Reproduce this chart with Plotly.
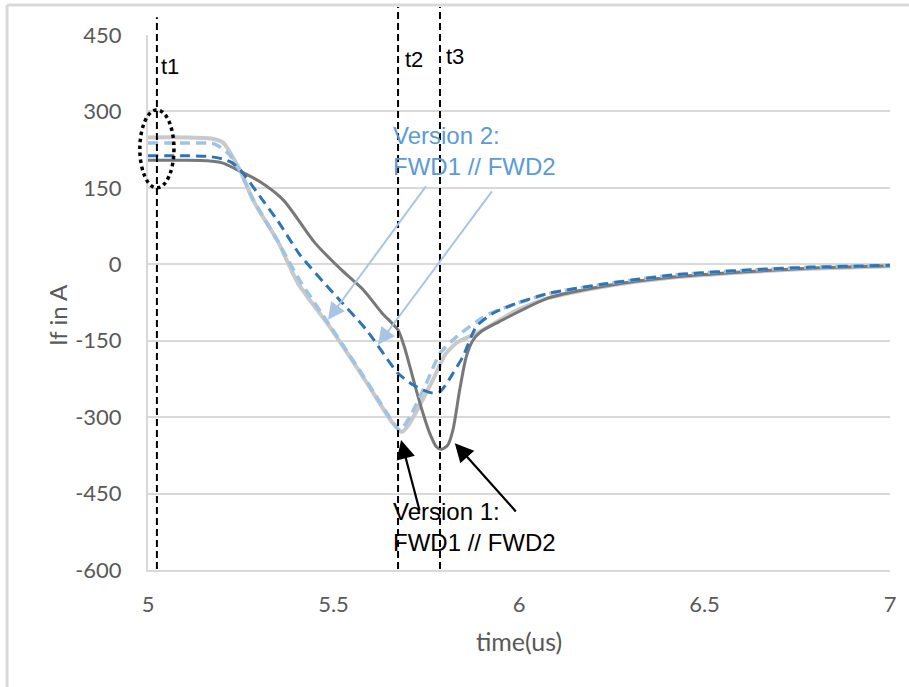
import plotly.graph_objects as go

# ---------------- data ----------------
v1_fwd1_x = [5.0, 5.1, 5.17, 5.2, 5.212, 5.248, 5.283, 5.35, 5.404, 5.49, 5.59, 5.66, 5.684,
             5.70, 5.725, 5.75, 5.768, 5.785, 5.80, 5.83, 5.895, 5.99, 6.08, 6.236, 6.416, 6.6, 6.78, 7.0]
v1_fwd1_y = [249, 249, 247, 240, 230, 185, 126, 45, -37, -123, -233, -312, -329,
             -318, -287, -252, -227, -200, -178, -155, -132, -92, -66, -43, -26, -16, -9, -4]

v1_fwd2_x = [5.0, 5.1, 5.16, 5.2, 5.25, 5.3, 5.365, 5.45, 5.52, 5.58, 5.63, 5.674,
             5.69, 5.706, 5.723, 5.741, 5.759, 5.777, 5.791, 5.808, 5.822, 5.84,
             5.858, 5.876, 5.898, 5.946, 6.08, 6.236, 6.416, 6.6, 6.78, 7.0]
v1_fwd2_y = [204, 204, 203, 199, 182, 163, 126, 42, -10, -50, -95, -129,
             -160, -201, -247, -292, -331, -358, -363, -355, -325, -247,
             -181, -149, -132, -113, -66, -42, -25, -15, -8, -3]

v2_fwd1_x = [5.0, 5.1, 5.18, 5.22, 5.25, 5.283, 5.35, 5.41, 5.49, 5.59, 5.66, 5.679,
             5.706, 5.75, 5.787, 5.832, 5.912, 5.993, 6.083, 6.236, 6.416, 6.6, 6.78, 7.0]
v2_fwd1_y = [238, 238, 236, 215, 180, 128, 45, -33, -120, -230, -310, -326,
             -299, -234, -175, -142, -100, -77, -57, -38, -21, -12, -6, -2]

v2_fwd2_x = [5.0, 5.1, 5.16, 5.2, 5.225, 5.25, 5.3, 5.35, 5.41, 5.5, 5.589, 5.674, 5.715, 5.742,
             5.769, 5.787, 5.805, 5.822, 5.849, 5.885, 5.93, 6.0, 6.08, 6.236, 6.416, 6.6, 6.78, 7.0]
v2_fwd2_y = [213, 213, 212, 207, 200, 184, 135, 85, 18, -57, -129, -214, -237, -247,
             -253, -250, -234, -214, -181, -122, -96, -75, -57, -38, -21, -12, -6, -2]

x_ticks = [5, 5.5, 6, 6.5, 7]
y_ticks = [450, 300, 150, 0, -150, -300, -450, -600]

t_marks = [5.024, 5.674, 5.787]
t_labels = ["t1", "t2", "t3"]

X_RANGE = [5, 7]
Y_RANGE = [-600, 450]


def px(v):
    return (v - X_RANGE[0]) / (X_RANGE[1] - X_RANGE[0])


def py(v):
    return (v - Y_RANGE[0]) / (Y_RANGE[1] - Y_RANGE[0])


fig = go.Figure()

fig.add_trace(go.Scatter(x=v1_fwd1_x, y=v1_fwd1_y, mode="lines", name="Version 1 FWD1",
                         line=dict(color="#c9c9c9", width=4, shape="spline", smoothing=0.6)))
fig.add_trace(go.Scatter(x=v1_fwd2_x, y=v1_fwd2_y, mode="lines", name="Version 1 FWD2",
                         line=dict(color="#787878", width=3, shape="spline", smoothing=0.7)))
fig.add_trace(go.Scatter(x=v2_fwd1_x, y=v2_fwd1_y, mode="lines", name="Version 2 FWD1",
                         line=dict(color="#9dc3e6", width=3.5, dash="10px,6px", shape="spline", smoothing=0.6)))
fig.add_trace(go.Scatter(x=v2_fwd2_x, y=v2_fwd2_y, mode="lines", name="Version 2 FWD2",
                         line=dict(color="#2e75b6", width=3, dash="10px,6px", shape="spline", smoothing=0.6)))

shapes = []
# vertical dashed time markers (extend above plot area)
tops = [485, 505, 505]
for t, top in zip(t_marks, tops):
    shapes.append(dict(type="line", xref="paper", yref="paper", x0=px(t), x1=px(t),
                       y0=py(-598), y1=py(top), line=dict(color="black", width=2, dash="7px,4px")))
# dotted ellipse around starting values
shapes.append(dict(type="circle", xref="paper", yref="paper",
                   x0=px(4.978), x1=px(5.070), y0=py(150), y1=py(303),
                   line=dict(color="black", width=3.5, dash="dot")))
# outer frame (left & top)
shapes.append(dict(type="line", xref="paper", yref="paper", x0=-0.19, x1=-0.19, y0=-0.25, y1=1.056,
                   line=dict(color="#d9d9d9", width=3)))
shapes.append(dict(type="line", xref="paper", yref="paper", x0=-0.19, x1=1.05, y0=1.056, y1=1.056,
                   line=dict(color="#d9d9d9", width=3)))

annotations = []
t_pos = [(5.030, 389), (5.688, 401), (5.798, 407)]
for lab, (xx, yy) in zip(t_labels, t_pos):
    annotations.append(dict(x=xx, y=yy, xref="x", yref="y", text=lab, showarrow=False,
                            xanchor="left", yanchor="middle",
                            font=dict(family="Liberation Sans, Arial", size=22, color="black")))

annotations.append(dict(x=5.656, y=222, xref="x", yref="y", text="Version 2:<br>FWD1 // FWD2",
                        showarrow=False, xanchor="left", yanchor="middle", align="left",
                        font=dict(family="Liberation Sans, Arial", size=24, color="#5b9bd5")))
annotations.append(dict(x=5.656, y=-516, xref="x", yref="y", text="Version 1:<br>FWD1 // FWD2",
                        showarrow=False, xanchor="left", yanchor="middle", align="left",
                        font=dict(family="Liberation Sans, Arial", size=24, color="black")))

# y-axis title (placed as in the reference, slightly below the plot centre)
annotations.append(dict(x=-0.1226, y=0.4766, xref="paper", yref="paper", text="If in A",
                        showarrow=False, textangle=-90, xanchor="center", yanchor="middle",
                        font=dict(family="Lato", size=24, color="#595959")))

arrows = [
    ((5.485, -109), (5.752, 156), "#a9c5e6", 2),
    ((5.620, -158), (5.930, 146), "#a9c5e6", 2),
    ((5.682, -345), (5.733, -486), "black", 2.2),
    ((5.827, -351), (5.995, -488), "black", 2.2),
]
for (hx, hy), (tx, ty), col, w in arrows:
    annotations.append(dict(x=hx, y=hy, ax=tx, ay=ty, xref="x", yref="y", axref="x", ayref="y",
                            text="", showarrow=True, arrowhead=2, arrowsize=1.7, arrowwidth=w,
                            arrowcolor=col, standoff=0, startstandoff=0))

fig.update_layout(
    width=909, height=687,
    margin=dict(l=148, r=19, t=35, b=117),
    paper_bgcolor="white", plot_bgcolor="white",
    showlegend=False,
    shapes=shapes, annotations=annotations,
    xaxis=dict(range=X_RANGE, tickvals=x_ticks, ticktext=[str(v) for v in x_ticks],
               showgrid=False, zeroline=False, showline=True, linecolor="#d9d9d9", linewidth=2,
               ticks="", ticklabelstandoff=14,
               tickfont=dict(family="Lato", size=22, color="#595959"),
               title=dict(text="time(us)", font=dict(family="Lato", size=25, color="#595959"), standoff=17)),
    yaxis=dict(range=Y_RANGE, tickvals=y_ticks, ticktext=[str(v) for v in y_ticks],
               showgrid=True, gridcolor="#d9d9d9", gridwidth=2,
               zeroline=False, showline=True, linecolor="#d9d9d9", linewidth=2,
               ticks="", ticklabelstandoff=20,
               tickfont=dict(family="Lato", size=22, color="#595959")),
)

fig.write_html("out.html")
